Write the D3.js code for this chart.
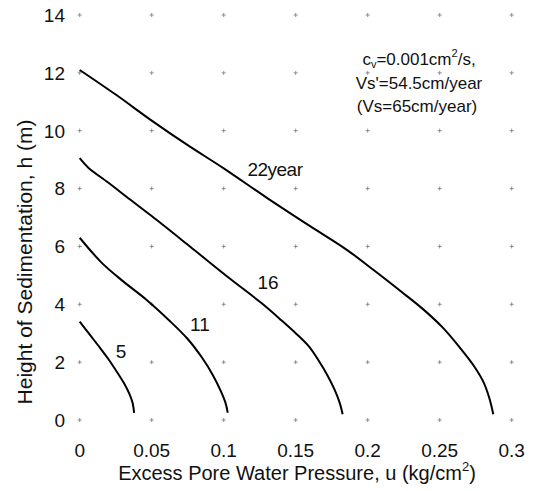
<!DOCTYPE html>
<html>
<head>
<meta charset="utf-8">
<script src="https://cdn.jsdelivr.net/npm/d3@7"></script>
<style>
  body { margin: 0; background: #fff; }
  svg { display: block; font-family: Arial, "Liberation Sans", Helvetica, sans-serif; }
</style>
</head>
<body>
<svg id="chart" width="533" height="491"></svg>
<script>
// ---- data ----
const xTicks = [0, 0.05, 0.1, 0.15, 0.2, 0.25, 0.3];
const xTickLabels = ["0", "0.05", "0.1", "0.15", "0.2", "0.25", "0.3"];
const yTicks = [0, 2, 4, 6, 8, 10, 12, 14];
const yTickLabels = ["0", "2", "4", "6", "8", "10", "12", "14"];

const curve5 = [[0,3.4],[0.007,2.95],[0.014,2.5],[0.02,2.1],[0.026,1.65],[0.031,1.25],[0.0345,0.9],[0.0367,0.6],[0.0378,0.25]];
const curve11 = [[0,6.3],[0.015,5.45],[0.03,4.8],[0.0465,4.15],[0.062,3.45],[0.075,2.8],[0.085,2.15],[0.0925,1.55],[0.098,1.0],[0.1012,0.6],[0.1028,0.25]];
const curve16 = [[0,9.05],[0.006,8.72],[0.02,8.2],[0.035,7.62],[0.05,7.05],[0.077,5.98],[0.104,4.9],[0.126,4.05],[0.14,3.45],[0.15,3.0],[0.159,2.55],[0.166,2.05],[0.172,1.55],[0.177,1.05],[0.1805,0.6],[0.1826,0.2]];
const curve22 = [[0,12.1],[0.025,11.25],[0.05,10.35],[0.075,9.5],[0.1,8.7],[0.13,7.68],[0.16,6.7],[0.185,5.9],[0.205,5.15],[0.223,4.45],[0.238,3.85],[0.252,3.2],[0.264,2.5],[0.274,1.85],[0.2805,1.3],[0.2845,0.75],[0.2872,0.2]];
const curves = [curve5, curve11, curve16, curve22];

const curveLabels = ["5", "11", "16", "22year"];
const curveLabelX = [0.0287, 0.0835, 0.1308, 0.1356];
const curveLabelY = [2.39, 3.32, 4.77, 8.68];

const xTitle = "Excess Pore Water Pressure, u (kg/cm";
const yTitle = "Height of Sedimentation, h (m)";

// ---- drawing ----
const svg = d3.select("#chart");
const x = d3.scaleLinear().domain([0, 0.3]).range([79.7, 511.7]);
const y = d3.scaleLinear().domain([0, 14]).range([420, 15]);

// sparse dotted grid: small crosses at intersections
const grid = svg.append("g").attr("stroke", "#777").attr("stroke-width", 0.8);
xTicks.forEach(xv => {
  yTicks.forEach(yv => {
    const px = x(xv), py = y(yv);
    grid.append("line").attr("x1", px - 2).attr("x2", px + 2).attr("y1", py).attr("y2", py);
    grid.append("line").attr("x1", px).attr("x2", px).attr("y1", py - 2).attr("y2", py + 2);
  });
});

// axes (tick labels only, no domain lines)
const xAxis = svg.append("g");
xAxis.selectAll("text").data(xTicks).join("text")
  .attr("x", d => x(d)).attr("y", 457)
  .attr("text-anchor", "middle").attr("font-size", 19).attr("fill", "#111")
  .text((d, i) => xTickLabels[i]);

const yAxis = svg.append("g");
yAxis.selectAll("text").data(yTicks).join("text")
  .attr("x", 65).attr("y", d => y(d)).attr("dy", "0.36em")
  .attr("text-anchor", "end").attr("font-size", 19).attr("fill", "#111")
  .text((d, i) => yTickLabels[i]);

// curves
const line = d3.line().x(d => x(d[0])).y(d => y(d[1])).curve(d3.curveCatmullRom.alpha(0.5));
svg.append("g").selectAll("path").data(curves).join("path")
  .attr("d", line).attr("fill", "none").attr("stroke", "#000").attr("stroke-width", 2);

// curve labels
svg.append("g").selectAll("text").data(curveLabels).join("text")
  .attr("x", (d, i) => x(curveLabelX[i])).attr("y", (d, i) => y(curveLabelY[i])).attr("dy", "0.36em")
  .attr("text-anchor", "middle").attr("font-size", 19).attr("fill", "#111")
  .attr("letter-spacing", (d) => d.length > 2 ? -0.5 : 0)
  .text(d => d);

// annotation
const ann = svg.append("g").attr("font-size", 17).attr("fill", "#111").attr("text-anchor", "middle");
const t1 = ann.append("text").attr("x", 419).attr("y", 65);
t1.append("tspan").text("c");
t1.append("tspan").attr("font-size", 11).attr("dy", 3).text("v");
t1.append("tspan").attr("dy", -3).text("=0.001cm");
t1.append("tspan").attr("font-size", 11).attr("dy", -8).text("2");
t1.append("tspan").attr("dy", 8).text("/s,");
ann.append("text").attr("x", 419).attr("y", 89).text("Vs'=54.5cm/year");
ann.append("text").attr("x", 417).attr("y", 112).text("(Vs=65cm/year)");

// axis titles
const xt = svg.append("text").attr("x", 297).attr("y", 480)
  .attr("text-anchor", "middle").attr("font-size", 20).attr("fill", "#111");
xt.append("tspan").text(xTitle);
xt.append("tspan").attr("font-size", 13).attr("dy", -9).text("2");
xt.append("tspan").attr("dy", 9).text(")");

svg.append("text")
  .attr("transform", "translate(32,262) rotate(-90)")
  .attr("text-anchor", "middle").attr("font-size", 21).attr("fill", "#111")
  .text(yTitle);
</script>
</body>
</html>
